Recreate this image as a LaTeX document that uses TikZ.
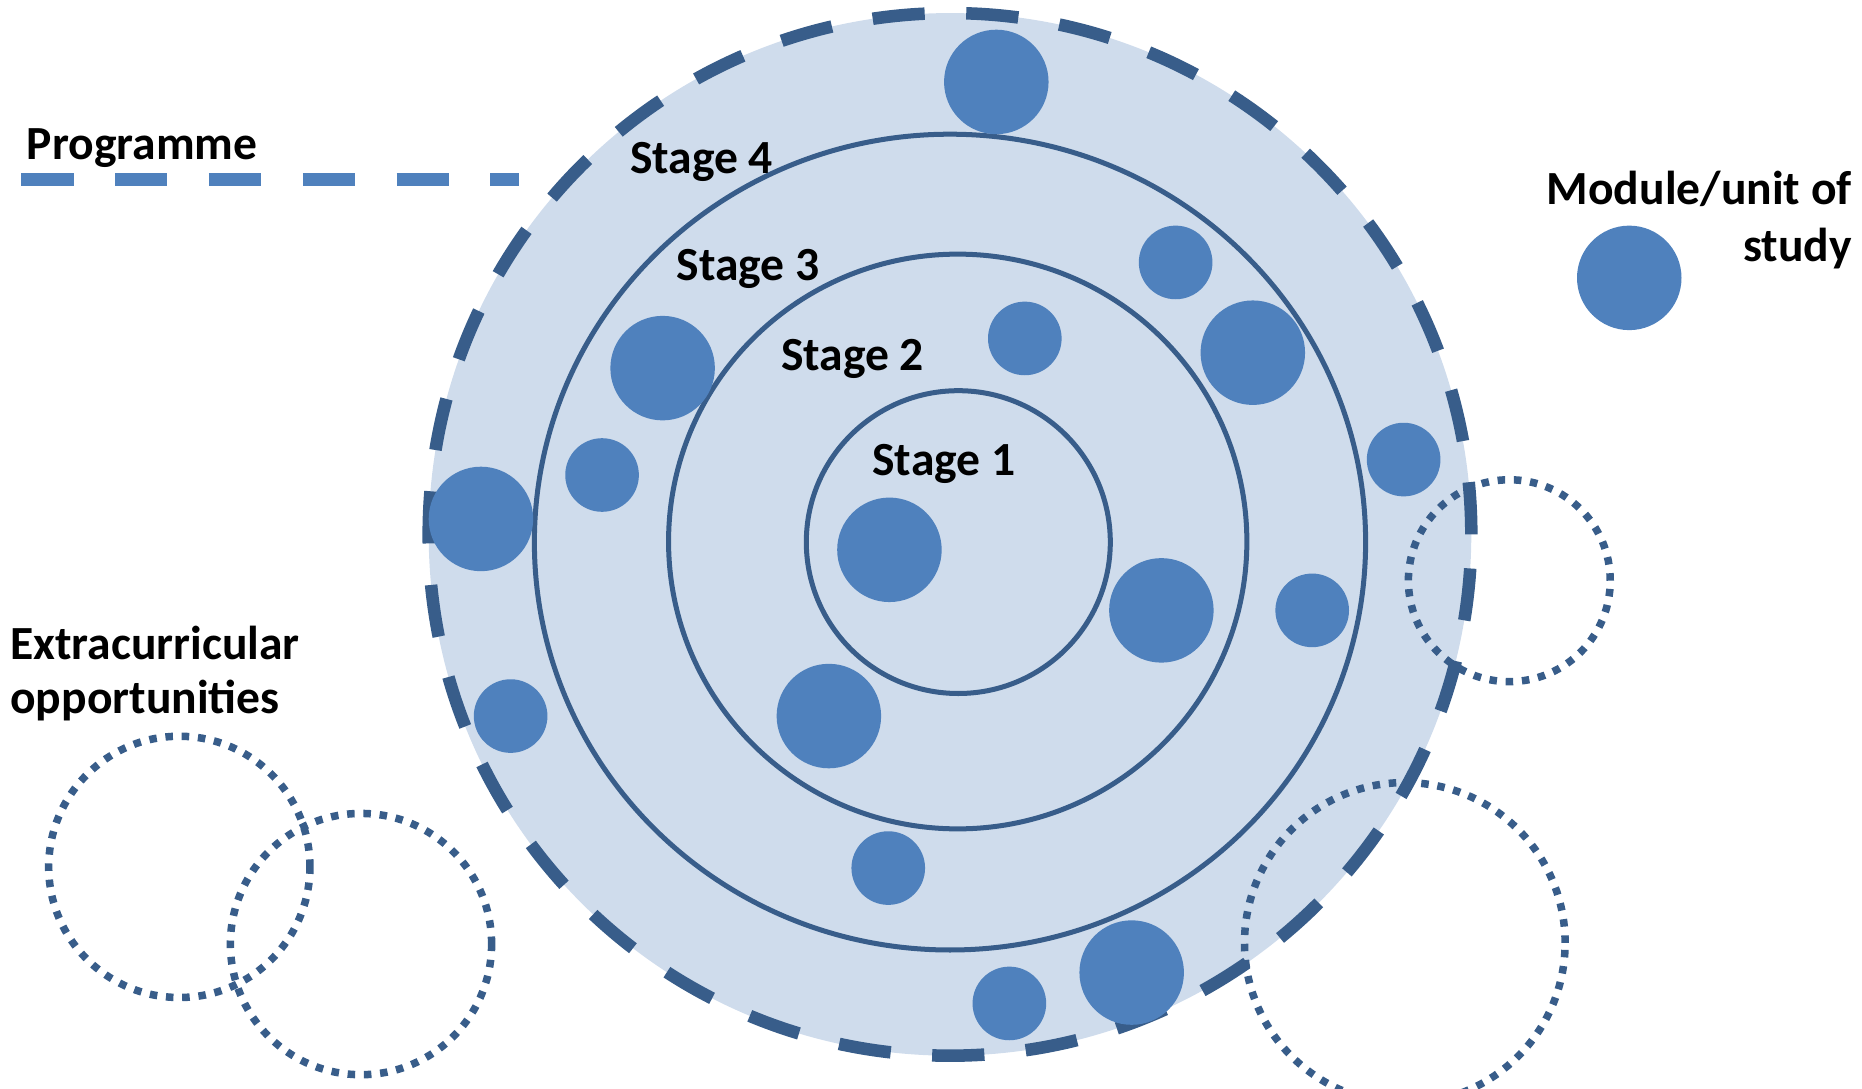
\documentclass[tikz,border=0pt]{standalone}
\usepackage{fontspec}
\setmainfont{Carlito}
\usetikzlibrary{shapes.geometric}
\definecolor{fillblue}{RGB}{207,220,236}
\definecolor{darkblue}{RGB}{56,93,138}
\definecolor{midblue}{RGB}{79,129,189}
\begin{document}
\begin{tikzpicture}[x=0.1mm,y=-0.1mm,
  lbl/.style={font=\bfseries\fontsize{11.4}{14}\selectfont,inner sep=0pt,text=black},
  progring/.style={circle,fill=fillblue,draw=darkblue,line width=3pt,dash pattern=on 4.4mm off 3.5mm,inner sep=0pt},
  stagering/.style={ellipse,draw=darkblue,line width=1.2pt,inner sep=0pt},
  bigmod/.style={circle,fill=midblue,inner sep=0pt,minimum size=8.8mm},
  smallmod/.style={circle,fill=midblue,inner sep=0pt,minimum size=6.2mm},
  extra/.style={circle,draw=darkblue,line width=1.8pt,dash pattern=on 1.8pt off 2.1pt,inner sep=0pt}
]
\useasboundingbox (0,0) rectangle (1568,917);
% programme ring
\node[progring,minimum size=87.8mm] (prog) at (800,450) {};
% stage rings
\node[stagering,minimum width=70mm,minimum height=68.7mm] (s4) at (800,456.5) {};
\node[stagering,minimum width=48.7mm,minimum height=48.4mm] (s3) at (806.5,456) {};
\node[stagering,minimum width=25.6mm,minimum height=25.5mm] (s1) at (807,456.5) {};
% stage labels
\node[lbl,anchor=base west] (t4) at (530,146) {Stage 4};
\node[lbl,anchor=base west] (t3) at (569,236) {Stage 3};
\node[lbl,anchor=base west] (t2) at (657,312) {Stage 2};
\node[lbl,anchor=base west] (t1) at (734,400) {Stage 1};
% modules
\node[bigmod] (m1) at (839,69) {};
\node[smallmod] (m2) at (990,221) {};
\node[smallmod] (m3) at (863,285) {};
\node[bigmod] (m4) at (1055,297) {};
\node[bigmod] (m5) at (558,310) {};
\node[smallmod] (m6) at (507,400) {};
\node[bigmod] (m7) at (405,437) {};
\node[smallmod] (m8) at (1182,387) {};
\node[bigmod] (m9) at (749,463) {};
\node[bigmod] (m10) at (978,514) {};
\node[smallmod] (m11) at (1105,514) {};
\node[smallmod] (m12) at (430,603) {};
\node[bigmod] (m13) at (698,603) {};
\node[smallmod] (m14) at (748,731) {};
\node[bigmod] (m15) at (953,819) {};
\node[smallmod] (m16) at (850,845) {};
% extracurricular circles
\node[extra,minimum size=17mm] (e1) at (1271,489) {};
\node[extra,minimum size=27mm] (e2) at (1183,794) {};
\node[extra,minimum size=22mm] (e3) at (151,730) {};
\node[extra,minimum size=22mm] (e4) at (304,795) {};
% legend
\node[lbl,anchor=base west] (lp) at (22,134) {Programme};
\coordinate (ls) at (18,151);
\coordinate (le) at (437,151);
\draw[midblue,line width=3pt,dash pattern=on 4.4mm off 3.5mm] (ls) -- (le);
\node[lbl,anchor=base east] (lm1) at (1560,172) {Module/unit of};
\node[lbl,anchor=base east] (lm2) at (1560,220) {study};
\node[bigmod] (lm) at (1372,234) {};
\node[lbl,anchor=base west] (lx1) at (8,555) {Extracurricular};
\node[lbl,anchor=base west] (lx2) at (8,601) {opportunities};
\end{tikzpicture}
\end{document}
